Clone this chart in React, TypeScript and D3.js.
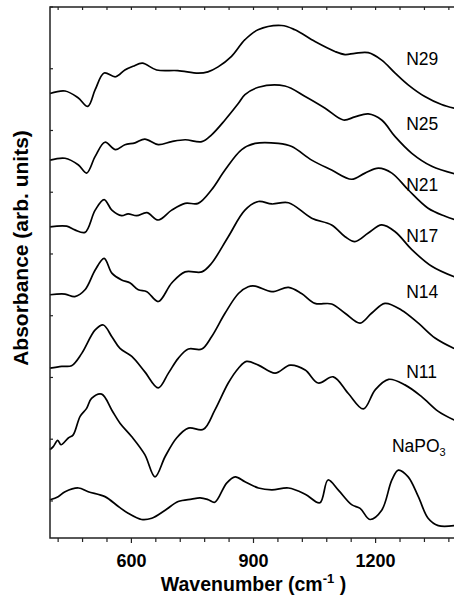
import React, { useRef, useEffect } from 'react';
import * as d3 from 'd3';

// spectra: [wavenumber (cm-1), absorbance (arb., stacked)]
const n29 = [[400,6.60],[437,6.64],[469,6.53],[493,6.39],[511,6.66],[533,6.93],[561,6.87],[584,6.98],[604,7.04],[627,7.09],[662,6.98],[714,6.97],[764,6.93],[788,6.95],[813,7.03],[846,7.20],[879,7.47],[911,7.63],[969,7.70],[1002,7.63],[1051,7.44],[1100,7.28],[1125,7.23],[1149,7.25],[1182,7.26],[1215,7.14],[1248,6.93],[1280,6.74],[1321,6.55],[1362,6.42],[1393,6.36]];
const n25 = [[400,5.52],[437,5.55],[470,5.44],[490,5.31],[511,5.58],[535,5.81],[561,5.69],[584,5.77],[609,5.80],[633,5.86],[666,5.77],[699,5.82],[732,5.85],[773,5.82],[797,5.93],[830,6.17],[863,6.44],[879,6.58],[912,6.70],[977,6.72],[1027,6.55],[1076,6.36],[1121,6.17],[1149,6.22],[1182,6.27],[1215,6.17],[1248,5.90],[1289,5.63],[1338,5.42],[1393,5.30]];
const n21 = [[400,4.44],[441,4.45],[461,4.39],[486,4.35],[511,4.71],[533,4.88],[552,4.71],[576,4.62],[592,4.65],[613,4.62],[638,4.67],[666,4.55],[699,4.71],[732,4.82],[764,4.82],[797,5.04],[830,5.36],[871,5.69],[904,5.79],[961,5.79],[994,5.74],[1043,5.52],[1092,5.36],[1141,5.21],[1174,5.31],[1207,5.39],[1240,5.31],[1280,5.04],[1329,4.74],[1371,4.61],[1393,4.56]];
const n17 = [[400,3.34],[437,3.35],[461,3.31],[486,3.42],[511,3.74],[533,3.93],[552,3.69],[576,3.58],[597,3.53],[617,3.42],[638,3.39],[666,3.23],[699,3.53],[732,3.71],[773,3.71],[797,3.85],[838,4.28],[879,4.71],[912,4.85],[945,4.81],[986,4.83],[1043,4.58],[1092,4.47],[1125,4.28],[1149,4.20],[1182,4.34],[1215,4.47],[1248,4.36],[1289,4.07],[1338,3.80],[1393,3.63]];
const n14 = [[400,2.15],[429,2.18],[453,2.19],[478,2.39],[511,2.77],[531,2.85],[552,2.66],[572,2.47],[601,2.34],[633,2.09],[666,1.83],[691,2.07],[715,2.31],[740,2.46],[773,2.46],[797,2.66],[830,3.04],[863,3.36],[887,3.47],[904,3.48],[945,3.39],[986,3.46],[1018,3.36],[1051,3.20],[1092,3.19],[1125,3.04],[1162,2.88],[1190,3.04],[1223,3.20],[1264,3.09],[1305,2.88],[1346,2.64],[1393,2.47]];
const n11 = [[400,0.83],[408,0.88],[419,0.98],[427,0.91],[445,1.02],[457,1.07],[474,1.37],[490,1.50],[502,1.66],[527,1.73],[552,1.47],[572,1.26],[601,1.04],[633,0.75],[658,0.39],[683,0.72],[711,1.02],[740,1.18],[777,1.16],[805,1.47],[838,1.91],[863,2.15],[883,2.26],[912,2.20],[953,2.07],[990,2.20],[1027,2.12],[1059,1.91],[1096,2.01],[1133,1.74],[1170,1.49],[1199,1.80],[1232,1.97],[1272,1.88],[1313,1.69],[1354,1.45],[1393,1.31]];
const napo3 = [[400,0.02],[420,0.07],[437,0.15],[470,0.21],[494,0.15],[535,0.07],[568,-0.09],[592,-0.20],[625,-0.30],[650,-0.28],[683,-0.15],[715,-0.01],[748,0.03],[769,0.05],[789,0.02],[805,-0.02],[834,0.29],[855,0.39],[879,0.31],[912,0.21],[945,0.18],[986,0.21],[1027,0.11],[1063,-0.03],[1083,0.34],[1108,0.18],[1141,-0.06],[1162,-0.12],[1186,-0.30],[1215,-0.15],[1240,0.34],[1256,0.50],[1280,0.39],[1305,0.07],[1329,-0.28],[1354,-0.40],[1393,-0.40]];

const seriesList = [n29, n25, n21, n17, n14, n11, napo3];
const seriesNames = ['N29', 'N25', 'N21', 'N17', 'N14', 'N11', 'NaPO'];
// where each name sits: [wavenumber, absorbance]
const labelAnchors = [[1275, 7.06], [1275, 6.01], [1275, 5.02], [1275, 4.19], [1275, 3.29], [1275, 1.99], [1240, 0.79]];

const xMajorTicks = [600, 900, 1200];
const xMinorTicks = d3.range(420, 1400, 60);
const yTicks = d3.range(0, 9, 1);

const App = () => {
    const svgRef = useRef(null);

    useEffect(() => {
        const svg = d3.select(svgRef.current);
        svg.selectAll('*').remove();

        const left = 50, right = 457, top = 7, bottom = 538;
        const font = 'Liberation Sans, Arial, Helvetica, sans-serif';

        const x = d3.scaleLinear().domain([400, 1400]).range([left, right]);
        const y = d3.scaleLinear().domain([-0.6, 8]).range([bottom, top]);

        const line = d3.line()
            .x(d => x(d[0]))
            .y(d => y(d[1]))
            .curve(d3.curveCatmullRom.alpha(0.5));

        svg.selectAll('.spec')
            .data(seriesList)
            .enter().append('path')
            .attr('class', 'spec')
            .attr('d', d => line(d))
            .attr('fill', 'none')
            .attr('stroke', '#000')
            .attr('stroke-width', 1.7)
            .attr('stroke-linejoin', 'round');

        // frame
        svg.append('rect')
            .attr('x', left).attr('y', top)
            .attr('width', right - left).attr('height', bottom - top)
            .attr('fill', 'none').attr('stroke', '#222').attr('stroke-width', 1.5);

        // bottom ticks (outward) and top ticks (inward)
        xMinorTicks.forEach(t => {
            const major = xMajorTicks.includes(t);
            svg.append('line')
                .attr('x1', x(t)).attr('x2', x(t))
                .attr('y1', bottom).attr('y2', bottom + (major ? 5 : 4))
                .attr('stroke', '#222').attr('stroke-width', 1.2);
            svg.append('line')
                .attr('x1', x(t)).attr('x2', x(t))
                .attr('y1', top).attr('y2', top + 3)
                .attr('stroke', '#222').attr('stroke-width', 1.2);
        });

        yTicks.forEach(t => {
            svg.append('line')
                .attr('x1', left).attr('x2', left + 3)
                .attr('y1', y(t)).attr('y2', y(t))
                .attr('stroke', '#222').attr('stroke-width', 1.2);
        });

        svg.selectAll('.xlab')
            .data(xMajorTicks)
            .enter().append('text')
            .attr('class', 'xlab')
            .attr('x', d => x(d))
            .attr('y', 567)
            .attr('text-anchor', 'middle')
            .style('font-family', font)
            .style('font-weight', 'bold')
            .style('font-size', '18px')
            .text(d => d);

        const xt = svg.append('text')
            .attr('x', x(900))
            .attr('y', 591)
            .attr('text-anchor', 'middle')
            .style('font-family', font)
            .style('font-weight', 'bold')
            .style('font-size', '19.5px');
        xt.append('tspan').text('Wavenumber (cm');
        xt.append('tspan').attr('dy', -8).style('font-size', '13px').text('-1');
        xt.append('tspan').attr('dy', 8).text(' )');

        svg.append('text')
            .attr('transform', 'translate(28,248) rotate(-90)')
            .attr('text-anchor', 'middle')
            .style('font-family', font)
            .style('font-weight', 'bold')
            .style('font-size', '21px')
            .text('Absorbance (arb. units)');

        seriesNames.forEach((name, i) => {
            const [wx, wy] = labelAnchors[i];
            const t = svg.append('text')
                .attr('x', x(wx))
                .attr('y', y(wy))
                .style('font-family', font)
                .style('font-size', '17.5px')
                .text(name);
            if (name === 'NaPO') {
                t.append('tspan').attr('dy', 4).style('font-size', '11px').text('3');
            }
        });
    }, []);

    return (
        <svg ref={svgRef} width={454} height={606}
            style={{ position: 'absolute', left: 0, top: 0, background: '#fff' }}></svg>
    );
};

export default App;
